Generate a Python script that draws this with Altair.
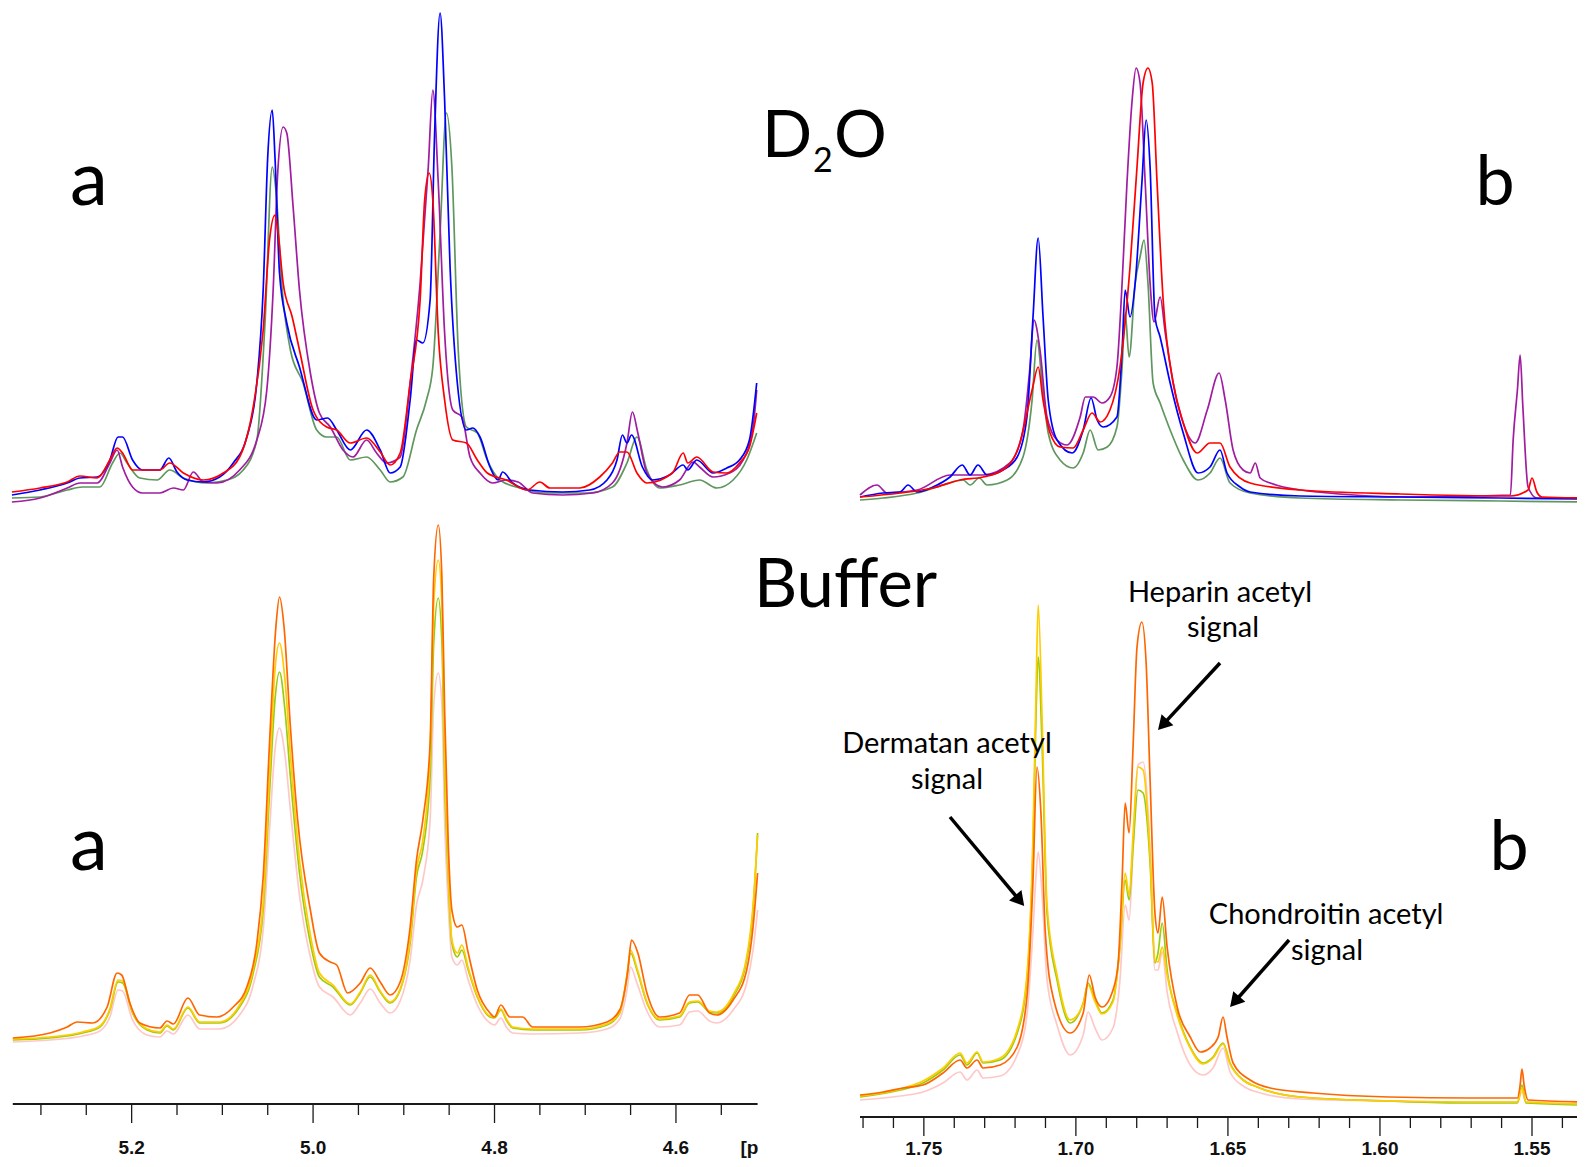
import math
import altair as alt
import pandas as pd

# ------------------------------------------------------------------
# DATA  (chemical shift in ppm, intensity in arbitrary units)
# ------------------------------------------------------------------
# --- D2O, region a (anomeric region) ---
TL_BLUE_PPM = [5.332, 5.301, 5.271, 5.257, 5.238, 5.224, 5.215, 5.210, 5.199, 5.188, 5.180, 5.169, 5.159, 5.150, 5.139,
               5.121, 5.103, 5.088, 5.073, 5.062, 5.055, 5.050, 5.045, 5.042, 5.037, 5.029, 5.015, 4.996, 4.984, 4.974,
               4.959, 4.941, 4.926, 4.915, 4.904, 4.893, 4.886, 4.879, 4.871, 4.866, 4.860, 4.855, 4.849, 4.841, 4.831,
               4.824, 4.816, 4.805, 4.796, 4.791, 4.780, 4.761, 4.725, 4.695, 4.676, 4.665, 4.659, 4.654, 4.649, 4.637,
               4.626, 4.607, 4.592, 4.587, 4.577, 4.559, 4.544, 4.530, 4.519, 4.511]
TL_BLUE_INT = [10, 15, 22, 27, 28, 45, 68, 68, 45, 35, 35, 35, 47, 33, 25, 23, 28, 42, 68, 122, 215, 348, 395, 348, 232,
               182, 138, 85, 87, 75, 55, 75, 55, 32, 38, 105, 165, 162, 205, 372, 492, 405, 238, 122, 75, 77, 68, 38, 25,
               33, 22, 15, 13, 15, 25, 45, 70, 62, 70, 38, 25, 30, 40, 35, 45, 32, 37, 45, 65, 122]

TL_RED_PPM = [5.332, 5.301, 5.271, 5.257, 5.238, 5.224, 5.216, 5.210, 5.199, 5.188, 5.169, 5.158, 5.143, 5.121, 5.099,
              5.081, 5.066, 5.055, 5.048, 5.042, 5.039, 5.033, 5.023, 5.015, 5.000, 4.985, 4.974, 4.959, 4.941, 4.926,
              4.915, 4.904, 4.893, 4.882, 4.877, 4.872, 4.868, 4.862, 4.855, 4.846, 4.831, 4.819, 4.808, 4.787, 4.764,
              4.750, 4.739, 4.706, 4.684, 4.670, 4.662, 4.654, 4.643, 4.632, 4.604, 4.592, 4.587, 4.577, 4.559, 4.544,
              4.530, 4.519, 4.511]
TL_RED_INT = [13, 17, 23, 29, 27, 45, 57, 52, 35, 35, 35, 42, 32, 25, 32, 48, 98, 175, 265, 290, 275, 222, 188, 155, 95,
              78, 75, 62, 67, 53, 40, 52, 122, 205, 305, 332, 305, 172, 105, 65, 62, 45, 32, 25, 15, 23, 17, 17, 28, 42,
              53, 53, 32, 22, 32, 52, 42, 48, 33, 32, 42, 58, 92]

TL_MAG_PPM = [5.332, 5.301, 5.271, 5.257, 5.238, 5.224, 5.216, 5.210, 5.199, 5.188, 5.169, 5.154, 5.143, 5.132, 5.121,
              5.106, 5.081, 5.062, 5.051, 5.044, 5.039, 5.033, 5.029, 5.022, 5.015, 5.003, 4.993, 4.981, 4.967, 4.956,
              4.941, 4.930, 4.919, 4.904, 4.893, 4.882, 4.873, 4.868, 4.862, 4.855, 4.846, 4.836, 4.827, 4.816, 4.802,
              4.787, 4.774, 4.758, 4.725, 4.692, 4.670, 4.654, 4.648, 4.642, 4.632, 4.615, 4.596, 4.581, 4.574, 4.559,
              4.541, 4.526, 4.515, 4.511]
TL_MAG_INT = [3, 7, 17, 22, 22, 42, 55, 38, 18, 12, 12, 17, 15, 33, 23, 22, 35, 65, 115, 215, 332, 378, 372, 298, 215,
              132, 92, 78, 55, 48, 65, 52, 42, 48, 122, 222, 338, 415, 322, 172, 95, 88, 48, 32, 22, 25, 23, 12, 10, 12,
              22, 62, 93, 72, 32, 18, 25, 43, 38, 28, 32, 45, 78, 115]

TL_GRN_PPM = [5.332, 5.301, 5.271, 5.254, 5.235, 5.221, 5.213, 5.205, 5.191, 5.172, 5.158, 5.143, 5.117, 5.095, 5.077,
              5.062, 5.053, 5.045, 5.041, 5.034, 5.025, 5.011, 4.996, 4.985, 4.974, 4.959, 4.941, 4.926, 4.915, 4.901,
              4.886, 4.875, 4.868, 4.860, 4.853, 4.847, 4.840, 4.831, 4.819, 4.808, 4.794, 4.772, 4.742, 4.698, 4.670,
              4.654, 4.643, 4.632, 4.618, 4.596, 4.574, 4.555, 4.537, 4.522, 4.511]
TL_GRN_INT = [7, 8, 15, 18, 18, 42, 52, 42, 27, 25, 35, 27, 22, 25, 35, 65, 182, 338, 315, 215, 155, 122, 75, 68, 68,
              45, 48, 35, 23, 28, 75, 105, 138, 272, 392, 338, 155, 78, 72, 45, 25, 17, 12, 12, 18, 42, 68, 35, 17, 20,
              25, 17, 25, 45, 72]

# --- D2O, region b (acetyl region) ---
TR_BLUE_PPM = [1.7710, 1.7634, 1.7578, 1.7552, 1.7522, 1.7470, 1.7414, 1.7374, 1.7348, 1.7322, 1.7292, 1.7240, 1.7193,
               1.7161, 1.7141, 1.7124, 1.7108, 1.7091, 1.7062, 1.7012, 1.6976, 1.6950, 1.6930, 1.6910, 1.6865, 1.6848,
               1.6838, 1.6822, 1.6805, 1.6783, 1.6769, 1.6756, 1.6740, 1.6723, 1.6690, 1.6647, 1.6598, 1.6559, 1.6526,
               1.6503, 1.6460, 1.6427, 1.6262, 1.5933, 1.5604, 1.5325]
TR_BLUE_INT = [8, 12, 13, 20, 13, 18, 28, 40, 30, 40, 30, 35, 48, 88, 188, 267, 188, 105, 65, 52, 75, 107, 85, 78, 88,
               155, 215, 188, 222, 322, 385, 338, 188, 168, 122, 72, 32, 38, 55, 32, 18, 13, 9, 8, 7, 6]

TR_RED_PPM = [1.7710, 1.7578, 1.7470, 1.7381, 1.7305, 1.7240, 1.7184, 1.7144, 1.7124, 1.7108, 1.7085, 1.7052, 1.7009,
              1.6976, 1.6947, 1.6920, 1.6888, 1.6855, 1.6822, 1.6799, 1.6779, 1.6763, 1.6749, 1.6733, 1.6713, 1.6680,
              1.6647, 1.6601, 1.6559, 1.6526, 1.6493, 1.6427, 1.6262, 1.5933, 1.5571, 1.5513, 1.5500, 1.5484, 1.5467,
              1.5325]
TR_RED_INT = [8, 12, 17, 25, 28, 35, 62, 115, 138, 105, 72, 58, 57, 75, 92, 83, 95, 138, 238, 338, 422, 437, 422, 322,
              205, 122, 82, 52, 62, 62, 38, 22, 15, 11, 9, 15, 27, 13, 8, 7]

TR_MAG_PPM = [1.7710, 1.7654, 1.7621, 1.7522, 1.7414, 1.7305, 1.7217, 1.7174, 1.7151, 1.7138, 1.7118, 1.7095, 1.7062,
              1.7029, 1.6986, 1.6969, 1.6943, 1.6914, 1.6888, 1.6865, 1.6848, 1.6832, 1.6815, 1.6802, 1.6789, 1.6772,
              1.6756, 1.6743, 1.6723, 1.6706, 1.6680, 1.6647, 1.6608, 1.6568, 1.6529, 1.6509, 1.6483, 1.6450, 1.6427,
              1.6410, 1.6394, 1.6361, 1.6207, 1.5891, 1.5571, 1.5562, 1.5548, 1.5539, 1.5530, 1.5513, 1.5484, 1.5325]
TR_MAG_INT = [10, 20, 12, 15, 30, 30, 42, 75, 138, 185, 155, 88, 65, 60, 88, 108, 108, 102, 108, 138, 222, 322, 405,
              437, 422, 322, 222, 183, 208, 172, 122, 82, 62, 95, 132, 105, 55, 35, 32, 42, 27, 22, 13, 8, 10, 65, 115,
              150, 98, 18, 7, 7]

TR_GRN_PPM = [1.7710, 1.7634, 1.7522, 1.7437, 1.7371, 1.7348, 1.7318, 1.7292, 1.7226, 1.7174, 1.7144, 1.7128, 1.7111,
              1.7091, 1.7052, 1.7009, 1.6976, 1.6953, 1.6927, 1.6897, 1.6865, 1.6848, 1.6838, 1.6825, 1.6805, 1.6789,
              1.6776, 1.6763, 1.6746, 1.6723, 1.6690, 1.6647, 1.6598, 1.6559, 1.6526, 1.6493, 1.6427, 1.6262, 1.5933,
              1.5604, 1.5325]
TR_GRN_INT = [5, 7, 12, 20, 25, 20, 27, 20, 25, 48, 105, 165, 122, 72, 45, 37, 52, 75, 55, 58, 78, 138, 192, 148, 222,
              248, 265, 222, 122, 102, 75, 45, 25, 32, 47, 22, 12, 7, 5, 4, 3]

# --- Buffer, region a ---
BL_ORG_PPM = [5.331, 5.290, 5.271, 5.260, 5.243, 5.227, 5.216, 5.211, 5.202, 5.191, 5.169, 5.161, 5.154, 5.138, 5.125,
              5.106, 5.088, 5.073, 5.062, 5.055, 5.048, 5.041, 5.037, 5.032, 5.025, 5.017, 5.003, 4.993, 4.981, 4.974,
              4.962, 4.948, 4.937, 4.926, 4.915, 4.904, 4.893, 4.886, 4.879, 4.871, 4.867, 4.862, 4.858, 4.855, 4.851,
              4.847, 4.841, 4.836, 4.829, 4.819, 4.805, 4.800, 4.793, 4.783, 4.769, 4.758, 4.706, 4.676, 4.662, 4.653,
              4.649, 4.642, 4.632, 4.618, 4.596, 4.585, 4.576, 4.563, 4.555, 4.537, 4.522, 4.515, 4.510]
BL_ORG_INT = [7, 12, 18, 23, 22, 38, 72, 70, 42, 22, 17, 24, 21, 47, 30, 28, 38, 58, 102, 168, 302, 418, 448, 418, 318,
              225, 135, 92, 83, 80, 52, 62, 77, 63, 50, 63, 118, 185, 225, 302, 468, 520, 468, 335, 202, 135, 118, 120,
              92, 55, 32, 28, 40, 28, 28, 18, 18, 23, 35, 75, 105, 92, 52, 28, 32, 50, 50, 32, 30, 45, 75, 118, 172]

BL_PPM = [5.331, 5.290, 5.254, 5.235, 5.224, 5.215, 5.210, 5.199, 5.183, 5.169, 5.161, 5.154, 5.138, 5.125, 5.103,
          5.081, 5.066, 5.055, 5.048, 5.042, 5.037, 5.031, 5.025, 5.015, 5.003, 4.993, 4.978, 4.959, 4.948, 4.937,
          4.926, 4.915, 4.904, 4.893, 4.886, 4.879, 4.871, 4.867, 4.862, 4.858, 4.855, 4.851, 4.847, 4.841, 4.836,
          4.829, 4.819, 4.805, 4.800, 4.793, 4.787, 4.780, 4.758, 4.706, 4.676, 4.662, 4.654, 4.650, 4.643, 4.632,
          4.618, 4.596, 4.585, 4.576, 4.563, 4.555, 4.537, 4.522, 4.515, 4.510]
BL_GRN_INT = [5, 7, 12, 18, 35, 63, 62, 32, 15, 12, 19, 15, 37, 22, 22, 38, 72, 135, 252, 345, 373, 335, 268, 172, 102,
              68, 58, 40, 52, 68, 53, 42, 55, 102, 168, 195, 268, 402, 447, 402, 268, 168, 102, 88, 95, 75, 48, 28, 27,
              35, 25, 17, 15, 15, 20, 32, 68, 92, 75, 42, 25, 28, 42, 43, 33, 32, 48, 85, 135, 212]
BL_YEL_INT = [6, 8, 13, 19, 36, 65, 64, 33, 16, 13, 20, 16, 38, 23, 23, 40, 76, 142, 270, 375, 402, 365, 290, 185, 110,
              72, 60, 41, 53, 70, 54, 43, 56, 106, 175, 205, 290, 440, 485, 440, 290, 175, 105, 92, 100, 77, 49, 29, 28,
              36, 26, 18, 16, 16, 21, 33, 70, 95, 77, 43, 26, 29, 43, 44, 34, 33, 50, 88, 140, 210]
BL_PNK_INT = [3, 5, 9, 14, 28, 55, 54, 25, 10, 8, 14, 11, 30, 16, 16, 30, 60, 115, 215, 295, 317, 290, 235, 150, 88,
              58, 48, 30, 42, 56, 42, 32, 44, 85, 140, 165, 225, 340, 372, 340, 225, 140, 88, 80, 85, 65, 40, 22, 20,
              27, 18, 12, 11, 12, 16, 26, 55, 78, 62, 34, 18, 20, 33, 34, 24, 22, 35, 62, 95, 135]

# --- Buffer, region b ---
BR_ORG_PPM = [1.7710, 1.7634, 1.7569, 1.7503, 1.7437, 1.7381, 1.7358, 1.7325, 1.7305, 1.7249, 1.7193, 1.7161, 1.7141,
              1.7128, 1.7115, 1.7101, 1.7075, 1.7019, 1.6976, 1.6956, 1.6937, 1.6914, 1.6878, 1.6861, 1.6848, 1.6838,
              1.6825, 1.6812, 1.6799, 1.6783, 1.6769, 1.6756, 1.6740, 1.6730, 1.6716, 1.6700, 1.6667, 1.6624, 1.6591,
              1.6559, 1.6532, 1.6516, 1.6503, 1.6483, 1.6427, 1.6361, 1.6220, 1.5970, 1.5703, 1.5548, 1.5539, 1.5533,
              1.5526, 1.5513, 1.5325]
BR_ORG_INT = [15, 18, 22, 25, 37, 50, 42, 50, 42, 45, 63, 113, 230, 343, 297, 180, 113, 77, 97, 135, 113, 103, 120, 147,
              230, 307, 277, 363, 463, 488, 447, 330, 197, 177, 213, 163, 103, 73, 58, 62, 73, 93, 73, 47, 30, 22, 17,
              13, 12, 12, 25, 41, 25, 10, 8]

BR_PPM = [1.7710, 1.7578, 1.7503, 1.7437, 1.7381, 1.7358, 1.7325, 1.7305, 1.7249, 1.7193, 1.7161, 1.7141, 1.7131,
          1.7124, 1.7111, 1.7095, 1.7062, 1.7019, 1.6976, 1.6960, 1.6937, 1.6914, 1.6878, 1.6855, 1.6838, 1.6825,
          1.6812, 1.6796, 1.6779, 1.6756, 1.6740, 1.6730, 1.6716, 1.6700, 1.6667, 1.6624, 1.6582, 1.6549, 1.6516,
          1.6493, 1.6450, 1.6404, 1.6262, 1.5970, 1.5703, 1.5548, 1.5533, 1.5520, 1.5325]
BR_GRN_INT = [13, 20, 27, 40, 55, 45, 57, 47, 50, 77, 130, 263, 397, 453, 363, 197, 130, 87, 107, 127, 110, 97, 110,
              163, 230, 210, 263, 320, 317, 247, 147, 157, 187, 140, 97, 63, 47, 53, 67, 47, 30, 23, 13, 9, 7, 7, 25, 7, 5]
BR_YEL_INT = [14, 21, 29, 42, 57, 47, 58, 48, 52, 80, 135, 275, 420, 505, 390, 205, 135, 90, 106, 125, 108, 96, 108,
              165, 237, 215, 275, 343, 340, 255, 150, 148, 163, 135, 95, 62, 46, 52, 66, 46, 30, 23, 13, 9, 8, 8, 22, 8, 6]
BR_PNK_INT = [10, 14, 18, 27, 38, 30, 40, 32, 34, 55, 95, 180, 235, 258, 215, 130, 85, 55, 75, 98, 82, 70, 82, 130,
              205, 190, 260, 345, 348, 260, 140, 140, 158, 118, 78, 45, 35, 42, 62, 38, 24, 18, 11, 9, 8, 8, 18, 8, 6]

# --- axis ticks ---
LEFT_EXTENT = [4.510, 5.331]
LEFT_MAJOR = [5.2, 5.0, 4.8, 4.6]
LEFT_LABELS = ["5.2", "5.0", "4.8", "4.6"]
LEFT_MINOR = [5.30, 5.25, 5.15, 5.10, 5.05, 4.95, 4.90, 4.85, 4.75, 4.70, 4.65, 4.55]
RIGHT_EXTENT = [1.5325, 1.771]
RIGHT_MAJOR = [1.75, 1.70, 1.65, 1.60, 1.55]
RIGHT_LABELS = ["1.75", "1.70", "1.65", "1.60", "1.55"]
RIGHT_MINOR = [1.77, 1.76, 1.74, 1.73, 1.72, 1.71, 1.69, 1.68, 1.67, 1.66, 1.64, 1.63, 1.62, 1.61,
               1.59, 1.58, 1.57, 1.56, 1.54]

# --- annotations (buffer, region b) ---
ANN_TEXT = ["Heparin acetyl", "signal", "Dermatan acetyl", "signal", "Chondroitin acetyl", "signal"]
ANN_PPM = [1.6526, 1.6516, 1.7424, 1.7424, 1.6177, 1.6174]
ANN_INT = [517, 482, 366, 330, 195, 159]
ARROW_FROM_PPM = [1.6526, 1.7414, 1.6299]
ARROW_FROM_INT = [447, 293, 170]
ARROW_TO_PPM = [1.6730, 1.7170, 1.6493]
ARROW_TO_INT = [380, 204, 103]

# ------------------------------------------------------------------
# LAYOUT
# ------------------------------------------------------------------
W, H = 1569, 1151
M = 8
TEXT_FONT = "Lato"
TICK_FONT = "Liberation Sans Narrow, Arial Narrow, Liberation Sans, Arial"


def xscale(px_a, ppm_a, px_b, ppm_b):
    s = (ppm_a - ppm_b) / (px_b - px_a)
    hi = ppm_a + (px_a - M) * s
    lo = ppm_a - (M + W - px_a) * s
    return alt.Scale(domain=[lo, hi], reverse=True, nice=False, zero=False), s


def yscale(y0):
    return alt.Scale(domain=[y0 - M - H, y0 - M], nice=False, zero=False)


XL, SL = xscale(12.8, 5.331, 757.6, 4.510)
XR, SR = xscale(860.0, 1.771, 1532.0, 1.550)
Y_TL, Y_TR, Y_BL, Y_BR = yscale(505), yscale(505), yscale(1045), yscale(1110)


def trace(ppm, inten, color, xs, ys, width=1.7):
    assert len(ppm) == len(inten), (len(ppm), len(inten))
    df = pd.DataFrame({"ppm": ppm, "i": inten})
    return alt.Chart(df).mark_line(color=color, strokeWidth=width, interpolate="monotone").encode(
        x=alt.X("ppm:Q", scale=xs, axis=None),
        y=alt.Y("i:Q", scale=ys, axis=None),
    )


def axis(xs, extent, major, labels, minor, y_line, y_lab, maj_len=19, min_len=11):
    line = alt.Chart(pd.DataFrame({"a": [extent[0]], "b": [extent[1]]})).mark_rule(
        color="#1a1a1a", strokeWidth=2).encode(
        x=alt.X("a:Q", scale=xs, axis=None), x2="b:Q", y=alt.value(y_line))
    maj = alt.Chart(pd.DataFrame({"v": major})).mark_rule(color="#1a1a1a", strokeWidth=1.3).encode(
        x=alt.X("v:Q", scale=xs, axis=None), y=alt.value(y_line), y2=alt.value(y_line + maj_len))
    mnr = alt.Chart(pd.DataFrame({"v": minor})).mark_rule(color="#1a1a1a", strokeWidth=1.3).encode(
        x=alt.X("v:Q", scale=xs, axis=None), y=alt.value(y_line), y2=alt.value(y_line + min_len))
    lab = alt.Chart(pd.DataFrame({"v": major, "t": labels})).mark_text(
        font=TICK_FONT, fontSize=19, fontWeight="bold", baseline="middle", color="#111").encode(
        x=alt.X("v:Q", scale=xs, axis=None), y=alt.value(y_lab), text="t:N")
    return [line, maj, mnr, lab]


layers = []
# D2O a
layers += [trace(TL_GRN_PPM, TL_GRN_INT, "#5f975f", XL, Y_TL),
           trace(TL_MAG_PPM, TL_MAG_INT, "#a01ca0", XL, Y_TL),
           trace(TL_BLUE_PPM, TL_BLUE_INT, "#0000ff", XL, Y_TL),
           trace(TL_RED_PPM, TL_RED_INT, "#ff0000", XL, Y_TL)]
# D2O b
layers += [trace(TR_GRN_PPM, TR_GRN_INT, "#5f975f", XR, Y_TR),
           trace(TR_MAG_PPM, TR_MAG_INT, "#a01ca0", XR, Y_TR),
           trace(TR_BLUE_PPM, TR_BLUE_INT, "#0000ff", XR, Y_TR),
           trace(TR_RED_PPM, TR_RED_INT, "#ff0000", XR, Y_TR)]
# Buffer a
layers += [trace(BL_PPM, BL_PNK_INT, "#ffc8c8", XL, Y_BL),
           trace(BL_PPM, BL_GRN_INT, "#99cc11", XL, Y_BL),
           trace(BL_PPM, BL_YEL_INT, "#ffcc00", XL, Y_BL),
           trace(BL_ORG_PPM, BL_ORG_INT, "#ff6600", XL, Y_BL)]
# Buffer b
layers += [trace(BR_PPM, BR_PNK_INT, "#ffc8c8", XR, Y_BR),
           trace(BR_PPM, BR_GRN_INT, "#99cc11", XR, Y_BR),
           trace(BR_PPM, BR_YEL_INT, "#ffcc00", XR, Y_BR),
           trace(BR_ORG_PPM, BR_ORG_INT, "#ff6600", XR, Y_BR)]

# axes
layers += axis(XL, LEFT_EXTENT, LEFT_MAJOR, LEFT_LABELS, LEFT_MINOR, 1096, 1140)
layers += axis(XR, RIGHT_EXTENT, RIGHT_MAJOR, RIGHT_LABELS, RIGHT_MINOR, 1109, 1141)
layers.append(alt.Chart(pd.DataFrame({"v": [4.519], "t": ["[p"]})).mark_text(
    font=TICK_FONT, fontSize=19, fontWeight="bold", baseline="middle", color="#111").encode(
    x=alt.X("v:Q", scale=XL, axis=None), y=alt.value(1140), text="t:N"))

# panel letters and medium labels (pixel positioned)
big_center = pd.DataFrame({"t": ["a", "b", "a", "b"],
                           "px": [81, 1487, 81, 1501],
                           "py": [197, 197, 862, 862],
                           "sz": [76, 70, 76, 70]})
big_left = pd.DataFrame({"t": ["D", "2", "O", "Buffer"],
                         "px": [754, 805, 826, 746],
                         "py": [149, 164, 149, 599],
                         "sz": [66, 34, 66, 67]})
for df, al in ((big_center, "center"), (big_left, "left")):
    layers.append(alt.Chart(df).mark_text(font=TEXT_FONT, align=al, baseline="alphabetic", color="#000").encode(
        x=alt.X("px:Q", scale=None, axis=None), y=alt.Y("py:Q", scale=None, axis=None),
        size=alt.Size("sz:Q", scale=None, legend=None), text="t:N"))

# annotation texts
ann = pd.DataFrame({"t": ANN_TEXT, "ppm": ANN_PPM, "i": ANN_INT})
layers.append(alt.Chart(ann).mark_text(font=TEXT_FONT, fontSize=29, align="center", baseline="middle",
                                       color="#000").encode(
    x=alt.X("ppm:Q", scale=XR, axis=None), y=alt.Y("i:Q", scale=Y_BR, axis=None), text="t:N"))

# arrows
HEAD_OFF = 7.0
shafts, heads = [], []
for p0, i0, p1, i1 in zip(ARROW_FROM_PPM, ARROW_FROM_INT, ARROW_TO_PPM, ARROW_TO_INT):
    dx = (p0 - p1) / SR
    dy = (i0 - i1)
    L = math.hypot(dx, dy)
    ux, uy = dx / L, dy / L
    ph = p1 + HEAD_OFF * ux * SR
    ih = i1 + HEAD_OFF * uy
    ang = math.degrees(math.atan2(dx, -dy)) % 360
    shafts.append({"p0": p0, "i0": i0, "p1": ph, "i1": ih})
    heads.append({"p": ph, "i": ih, "ang": ang})
layers.append(alt.Chart(pd.DataFrame(shafts)).mark_rule(color="#000", strokeWidth=3.5).encode(
    x=alt.X("p0:Q", scale=XR, axis=None), x2="p1:Q",
    y=alt.Y("i0:Q", scale=Y_BR, axis=None), y2="i1:Q"))
layers.append(alt.Chart(pd.DataFrame(heads)).mark_point(shape="triangle-up", filled=True, color="#000",
                                                        opacity=1, size=260).encode(
    x=alt.X("p:Q", scale=XR, axis=None), y=alt.Y("i:Q", scale=Y_BR, axis=None),
    angle=alt.Angle("ang:Q", scale=None)))

chart = alt.layer(*layers).resolve_scale(x="independent", y="independent").properties(
    width=W, height=H, autosize=alt.AutoSizeParams(type="none"), padding=0, background="white"
).configure_view(stroke=None)

chart.save("out.html", embed_options={"renderer": "svg", "actions": False})
